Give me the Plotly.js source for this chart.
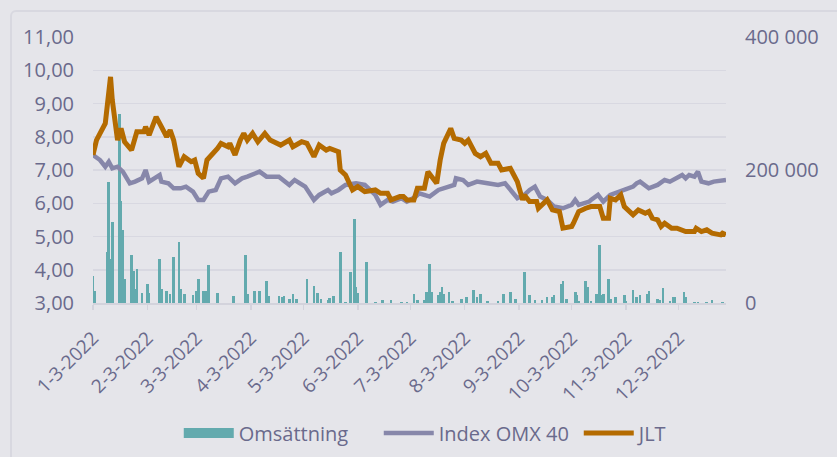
<!DOCTYPE html>
<html>
<head>
<meta charset="utf-8">
<script src="https://cdn.plot.ly/plotly-3.0.1.min.js"></script>
<style>
  html, body { margin:0; padding:0; width:837px; height:457px; overflow:hidden; background:#e5e5ea; }
  #frame { position:absolute; left:10px; top:10px; width:900px; height:520px; border:2px solid #d8d8e0; border-radius:6px; box-sizing:border-box; }
  #chart { position:absolute; left:0; top:0; width:837px; height:457px; }
</style>
</head>
<body>
<div id="frame"></div>
<div id="chart"></div>
<script>
// ---- Data ----
const jltDates = ["2022-01-03","2022-01-05","2022-01-10","2022-01-13","2022-01-14","2022-01-17","2022-01-19","2022-01-21","2022-01-25","2022-01-28",
"2022-02-01","2022-02-02","2022-02-04","2022-02-08","2022-02-10","2022-02-14","2022-02-16","2022-02-18","2022-02-21","2022-02-24","2022-02-28",
"2022-03-02","2022-03-04","2022-03-07","2022-03-09","2022-03-11","2022-03-15","2022-03-17","2022-03-21","2022-03-22","2022-03-25","2022-03-28","2022-03-30",
"2022-04-01","2022-04-04","2022-04-07","2022-04-11","2022-04-14","2022-04-20","2022-04-25","2022-04-27",
"2022-05-02","2022-05-05","2022-05-09","2022-05-12","2022-05-16","2022-05-18","2022-05-23","2022-05-24","2022-05-27","2022-05-30","2022-05-31",
"2022-06-03","2022-06-07","2022-06-13","2022-06-16","2022-06-20","2022-06-22","2022-06-27","2022-06-29",
"2022-07-01","2022-07-05","2022-07-07","2022-07-11","2022-07-13","2022-07-15","2022-07-18","2022-07-20","2022-07-22","2022-07-26","2022-07-28",
"2022-08-01","2022-08-03","2022-08-05","2022-08-09","2022-08-12","2022-08-15","2022-08-18","2022-08-22","2022-08-24","2022-08-29","2022-08-31",
"2022-09-02","2022-09-05","2022-09-06","2022-09-09","2022-09-13","2022-09-14","2022-09-16","2022-09-19","2022-09-22","2022-09-26","2022-09-28",
"2022-10-03","2022-10-04","2022-10-07","2022-10-11","2022-10-14","2022-10-19","2022-10-21","2022-10-24","2022-10-25","2022-10-28","2022-10-31",
"2022-11-02","2022-11-04","2022-11-07","2022-11-10","2022-11-14","2022-11-16","2022-11-18","2022-11-21","2022-11-23","2022-11-25","2022-11-29",
"2022-12-02","2022-12-07","2022-12-12","2022-12-13","2022-12-16","2022-12-19","2022-12-22","2022-12-27","2022-12-28","2022-12-30"];
const jltValues = [7.45,7.9,8.4,9.8,9.1,7.9,8.25,7.85,7.6,8.15,
8.15,8.3,8.05,8.6,8.4,8.0,8.2,7.9,7.1,7.4,7.25,
7.3,6.9,6.75,7.3,7.4,7.65,7.8,7.7,7.8,7.45,7.9,8.1,
7.9,8.1,7.85,8.1,7.9,7.75,7.9,7.7,
7.85,7.8,7.4,7.75,7.6,7.65,7.55,7.0,6.85,6.55,6.4,
6.5,6.35,6.4,6.3,6.3,6.1,6.2,6.2,
6.1,6.1,6.45,6.45,6.95,6.8,6.6,7.3,7.8,8.25,7.95,
7.9,7.8,7.9,7.5,7.4,7.5,7.2,7.2,7.0,7.05,6.85,
6.65,6.1,6.25,6.05,6.05,5.85,5.95,6.1,5.8,5.75,5.25,
5.3,5.4,5.75,5.85,5.9,5.9,5.55,5.55,6.15,6.1,6.25,
5.9,5.8,5.65,5.8,5.7,5.75,5.55,5.5,5.3,5.4,5.25,
5.25,5.15,5.15,5.25,5.15,5.2,5.1,5.05,5.1,5.05];

const omxDates = ["2022-01-03","2022-01-07","2022-01-10","2022-01-12","2022-01-14","2022-01-17","2022-01-20","2022-01-24","2022-01-27","2022-01-31",
"2022-02-02","2022-02-04","2022-02-07","2022-02-10","2022-02-11","2022-02-15","2022-02-18","2022-02-22","2022-02-25",
"2022-03-01","2022-03-04","2022-03-07","2022-03-10","2022-03-14","2022-03-17","2022-03-21","2022-03-25","2022-03-29",
"2022-04-01","2022-04-08","2022-04-12","2022-04-19","2022-04-25","2022-04-28",
"2022-05-04","2022-05-09","2022-05-12","2022-05-17","2022-05-19","2022-05-23","2022-05-27",
"2022-06-02","2022-06-07","2022-06-13","2022-06-16","2022-06-20","2022-06-23","2022-06-28",
"2022-07-01","2022-07-06","2022-07-08","2022-07-14","2022-07-19","2022-07-25","2022-07-28","2022-07-29",
"2022-08-02","2022-08-05","2022-08-10","2022-08-16","2022-08-22","2022-08-26","2022-08-30",
"2022-09-02","2022-09-06","2022-09-09","2022-09-12","2022-09-15","2022-09-19","2022-09-23","2022-09-28",
"2022-10-03","2022-10-05","2022-10-07","2022-10-13","2022-10-14","2022-10-18","2022-10-21","2022-10-25","2022-10-28",
"2022-11-03","2022-11-07","2022-11-09","2022-11-11","2022-11-16","2022-11-21","2022-11-25","2022-11-28",
"2022-12-05","2022-12-07","2022-12-09","2022-12-12","2022-12-14","2022-12-16","2022-12-20","2022-12-23","2022-12-30"];
const omxValues = [7.45,7.3,7.1,7.25,7.05,7.1,6.95,6.6,6.65,6.75,
7.0,6.65,6.75,6.85,6.65,6.6,6.45,6.45,6.5,
6.35,6.1,6.1,6.35,6.4,6.75,6.8,6.6,6.75,
6.8,6.95,6.8,6.8,6.55,6.7,
6.5,6.1,6.25,6.4,6.3,6.4,6.55,
6.6,6.55,6.25,5.95,6.1,6.05,6.15,
6.05,6.2,6.3,6.2,6.4,6.5,6.55,6.75,
6.7,6.55,6.65,6.6,6.55,6.6,6.35,
6.15,6.25,6.4,6.5,6.2,6.1,5.9,5.85,
5.95,6.1,5.95,6.05,6.1,6.25,6.05,6.25,6.3,
6.4,6.5,6.6,6.65,6.45,6.55,6.7,6.65,
6.85,6.75,6.85,6.8,6.95,6.65,6.6,6.65,6.7];

const volDates = ["2022-01-03","2022-01-04","2022-01-11","2022-01-12","2022-01-13","2022-01-14","2022-01-18","2022-01-19","2022-01-20","2022-01-21",
"2022-01-25","2022-01-26","2022-01-27","2022-01-28","2022-01-31","2022-02-03","2022-02-04","2022-02-10","2022-02-11","2022-02-14",
"2022-02-16","2022-02-18","2022-02-21","2022-02-22","2022-02-24","2022-03-01","2022-03-03","2022-03-04","2022-03-07","2022-03-08",
"2022-03-10","2022-03-15","2022-03-24","2022-03-31","2022-04-01","2022-04-05","2022-04-08","2022-04-12","2022-04-13","2022-04-19",
"2022-04-21","2022-04-22","2022-04-25","2022-04-27","2022-04-29","2022-05-05","2022-05-09","2022-05-11","2022-05-13","2022-05-17",
"2022-05-18","2022-05-20","2022-05-24","2022-05-27","2022-05-30","2022-06-01","2022-06-02","2022-06-03","2022-06-08","2022-06-13",
"2022-06-17","2022-06-22","2022-06-28","2022-07-01","2022-07-05","2022-07-07","2022-07-11","2022-07-12","2022-07-13","2022-07-14",
"2022-07-15","2022-07-19","2022-07-20","2022-07-21","2022-07-22","2022-07-25","2022-07-27","2022-08-01","2022-08-04","2022-08-08",
"2022-08-10","2022-08-12","2022-08-16","2022-08-22","2022-08-25","2022-08-29","2022-09-01","2022-09-06","2022-09-09","2022-09-12",
"2022-09-16","2022-09-19","2022-09-22","2022-09-23","2022-09-27","2022-09-28","2022-09-30","2022-10-05","2022-10-06","2022-10-07",
"2022-10-11","2022-10-12","2022-10-14","2022-10-17","2022-10-19","2022-10-20","2022-10-21","2022-10-24","2022-10-25","2022-10-28",
"2022-11-02","2022-11-03","2022-11-07","2022-11-09","2022-11-11","2022-11-15","2022-11-16","2022-11-21","2022-11-22","2022-11-24",
"2022-11-28","2022-11-30","2022-12-01","2022-12-06","2022-12-07","2022-12-12","2022-12-14","2022-12-19","2022-12-22","2022-12-28"];
const volValues = [40000,18500,76700,182000,66200,121200,284200,152800,109200,36100,
72600,47600,21000,51100,15000,29000,15000,66200,21000,17500,
14000,69200,91200,21000,14000,12500,17500,36100,17500,17500,
57600,15000,11000,72600,14000,17500,17500,33000,10000,10000,
9000,10000,6000,14000,6000,36000,25000,15000,6000,4500,
8000,10000,76000,2000,47000,127000,24000,15000,61000,2000,
5000,5000,2000,2000,13000,5000,4500,17000,17000,58000,
17000,12000,17000,24000,14000,17000,3000,6000,9000,20000,
9000,14000,3000,3000,14000,17000,6000,46000,12000,4500,
4500,9000,9000,12000,29000,33000,6000,17000,12000,3000,
33000,24000,3000,14000,87000,12000,14000,36000,6000,9000,
12000,3000,20000,9000,12000,14000,18000,6000,4500,23000,
3000,9000,9000,17000,9000,2000,2000,2000,5000,2000];

const xTickVals = ["2022-01-03","2022-02-03","2022-03-03","2022-04-03","2022-05-03","2022-06-03","2022-07-03","2022-08-03","2022-09-03","2022-10-03","2022-11-03","2022-12-03"];
const xTickText = ["1-3-2022","2-3-2022","3-3-2022","4-3-2022","5-3-2022","6-3-2022","7-3-2022","8-3-2022","9-3-2022","10-3-2022","11-3-2022","12-3-2022"];
const leftTickVals = [3,4,5,6,7,8,9,10,11];
const leftTickText = ["3,00","4,00","5,00","6,00","7,00","8,00","9,00","10,00","11,00"];
const rightTickVals = [0,200000,400000];
const rightTickText = ["0","200 000","400 000"];

// ---- Chart ----
const txt = "#6a6a8c";
const fontFam = "'Open Sans', sans-serif";
const barColor = "#63aaae";
const traces = [
  { type:"bar", name:"Omsättning", x: volDates, y: volValues, yaxis:"y", showlegend:false,
    marker:{ color:barColor, line:{width:0} }, width: 1.5*86400000 },
  { type:"scatter", mode:"lines", name:"Omsättning", x:[null], y:[null], yaxis:"y",
    line:{ color:barColor, width:10 }, hoverinfo:"skip" },
  { type:"scatter", mode:"lines", name:"Index OMX 40", x: omxDates, y: omxValues, yaxis:"y2",
    line:{ color:"#8787aa", width:4.5 } },
  { type:"scatter", mode:"lines", name:"JLT", x: jltDates, y: jltValues, yaxis:"y2",
    line:{ color:"#b46b00", width:5 } }
];
const layout = {
  width:837, height:457,
  paper_bgcolor:"rgba(0,0,0,0)", plot_bgcolor:"rgba(0,0,0,0)",
  margin:{ l:93, r:111, t:37, b:154 },
  font:{ family:fontFam, size:20, color:txt },
  showlegend:true,
  legend:{ orientation:"h", xref:"container", yref:"container", x:0.572, xanchor:"center", y:0.0525, yanchor:"middle",
           font:{ family:fontFam, size:20, color:txt }, itemwidth:50, entrywidth:135, entrywidthmode:"pixels",
           traceorder:"normal", bgcolor:"rgba(0,0,0,0)" },
  xaxis:{ type:"date", range:["2022-01-03","2022-12-30"], tickmode:"array", tickvals:xTickVals, ticktext:xTickText,
          tickangle:-45, ticks:"outside", ticklen:5, tickcolor:"#d3d3dc", tickwidth:1.5, ticklabelstandoff:10,
          showline:true, linecolor:"#d3d3dc", linewidth:1.5, showgrid:false, zeroline:false, automargin:false,
          tickfont:{ family:fontFam, size:19, color:txt } },
  yaxis:{ side:"right", range:[0,400000], tickmode:"array", tickvals:rightTickVals, ticktext:rightTickText,
          showgrid:false, zeroline:false, showline:false, ticks:"outside", ticklen:14, tickcolor:"rgba(0,0,0,0)",
          automargin:false, tickfont:{ family:fontFam, size:20, color:txt } },
  yaxis2:{ overlaying:"y", side:"left", range:[3,11], tickmode:"array", tickvals:leftTickVals, ticktext:leftTickText,
           showgrid:true, gridcolor:"#d8d8e1", gridwidth:1.5, zeroline:false, showline:false,
           ticks:"outside", ticklen:14, tickcolor:"rgba(0,0,0,0)", automargin:false,
           tickfont:{ family:fontFam, size:20, color:txt } },
  bargap:0
};
Plotly.newPlot("chart", traces, layout, { displayModeBar:false, staticPlot:true });
</script>
</body>
</html>
